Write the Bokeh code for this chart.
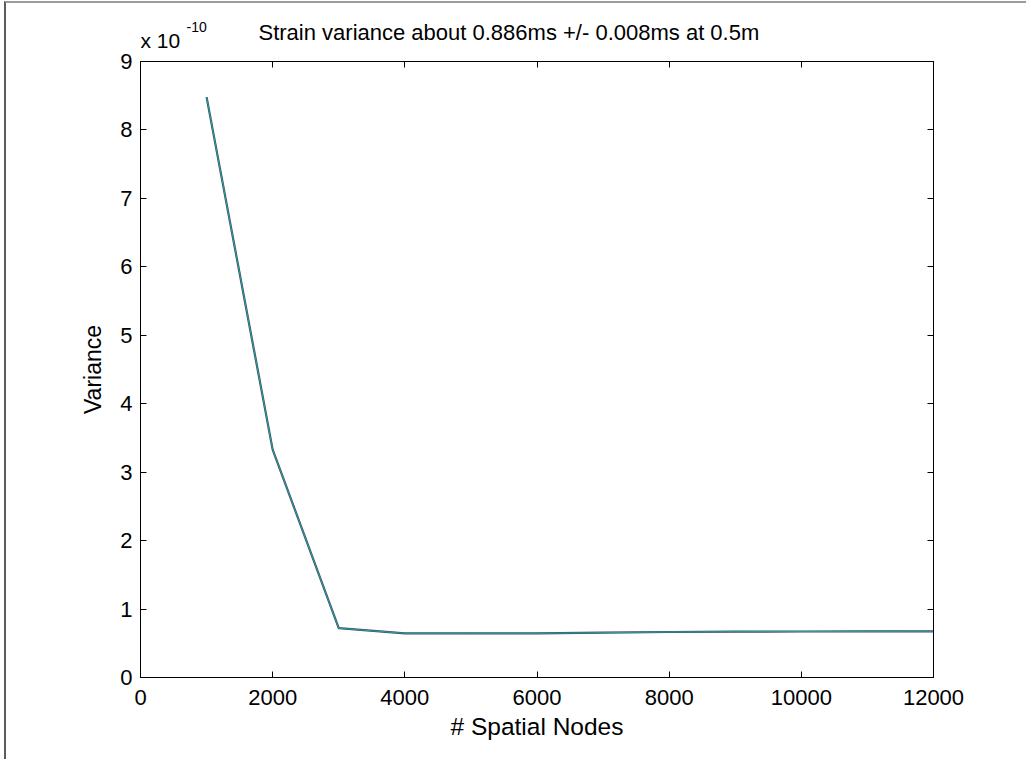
from bokeh.plotting import figure
from bokeh.models import LinearAxis, FixedTicker, Range1d
from bokeh.layouts import column
from bokeh.core.properties import value
from bokeh.embed import file_html
from bokeh.resources import INLINE

# data (variance in units of 1e-10)
nodes = [1000, 2000, 3000, 4000, 5000, 6000, 7000, 8000, 9000, 10000, 11000, 12000]
variance_e10 = [8.48, 3.33, 0.72, 0.645, 0.645, 0.645, 0.655, 0.665, 0.670, 0.672, 0.673, 0.675]
x_ticks = [0, 2000, 4000, 6000, 8000, 10000, 12000]
y_ticks = [0, 1, 2, 3, 4, 5, 6, 7, 8, 9]
title_text = "Strain variance about 0.886ms +/- 0.008ms at 0.5m"
scale_text = "x 10"
scale_exp = "-10"
x_label = "# Spatial Nodes"
y_label = "Variance"

FONT = "Liberation Sans"
LEFT, FRAME_W, RIGHT = 134, 793, 93
HEADER_H = 46

# ---- header strip (title and axis multiplier); coordinates are canvas pixels ----
hdr = figure(frame_width=FRAME_W, frame_height=HEADER_H, output_backend="svg", toolbar_location=None,
             x_range=Range1d(LEFT, LEFT + FRAME_W), y_range=Range1d(HEADER_H, 0),
             min_border_left=LEFT, min_border_right=RIGHT, min_border_top=0, min_border_bottom=0,
             x_axis_location=None, y_axis_location=None)
hdr.xgrid.visible = False
hdr.ygrid.visible = False
hdr.outline_line_color = None
hdr.background_fill_color = "white"
hdr.border_fill_color = "white"
hdr.text(x=[252], y=[29], text=[title_text], text_font=value(FONT), text_font_size="22px",
         text_color="black", text_align="left", text_baseline="alphabetic")
hdr.text(x=[134], y=[37], text=[scale_text], text_font=value(FONT), text_font_size="21px",
         text_color="black", text_align="left", text_baseline="alphabetic")
hdr.text(x=[180], y=[23], text=[scale_exp], text_font=value(FONT), text_font_size="14px",
         text_color="black", text_align="left", text_baseline="alphabetic")

# ---- main plot ----
p = figure(frame_width=FRAME_W, frame_height=616, output_backend="svg", toolbar_location=None,
           x_range=Range1d(0, 12000), y_range=Range1d(0, 9),
           min_border_left=LEFT, min_border_right=RIGHT, min_border_top=58 - HEADER_H,
           min_border_bottom=82, x_axis_location=None, y_axis_location=None)
p.xgrid.visible = False
p.ygrid.visible = False
p.outline_line_color = "black"
p.outline_line_width = 1
p.background_fill_color = "white"
p.border_fill_color = "white"

def mk_axis(ticks, labels=True):
    ax = LinearAxis(ticker=FixedTicker(ticks=ticks))
    ax.major_tick_in = 6
    ax.major_tick_out = 0
    ax.minor_tick_in = 0
    ax.minor_tick_out = 0
    ax.axis_line_color = "black"
    ax.major_tick_line_color = "black"
    ax.major_label_text_font = FONT
    ax.major_label_text_font_size = "22px"
    ax.major_label_text_color = "black"
    if not labels:
        ax.major_label_text_alpha = 0
        ax.major_label_text_font_size = "1px"
        ax.major_label_standoff = 0
    return ax

xb = mk_axis(x_ticks)
xb.major_label_standoff = 12
xb.axis_label = x_label
xb.axis_label_text_font = FONT
xb.axis_label_text_font_size = "24.5px"
xb.axis_label_text_font_style = "normal"
xb.axis_label_text_color = "black"
xb.axis_label_standoff = 5
p.add_layout(xb, "below")

yl = mk_axis(y_ticks)
yl.major_label_standoff = 8
yl.axis_label = y_label
yl.axis_label_text_font = FONT
yl.axis_label_text_font_size = "23px"
yl.axis_label_text_font_style = "normal"
yl.axis_label_text_color = "black"
yl.axis_label_standoff = 11
p.add_layout(yl, "left")

p.add_layout(mk_axis(x_ticks, labels=False), "above")
p.add_layout(mk_axis(y_ticks, labels=False), "right")

p.line(nodes, variance_e10, line_color="#4a4a5c", line_width=2.2)
p.line(nodes, variance_e10, line_color="#1aa5a5", line_width=1)

layout = column(hdr, p, spacing=0)
layout.styles = {"margin-left": "4px", "margin-top": "1px",
                 "border-left": "2px solid #5c5c5c", "border-top": "2px solid #9c9c9c"}

open("out.html", "w").write(file_html(layout, INLINE))
